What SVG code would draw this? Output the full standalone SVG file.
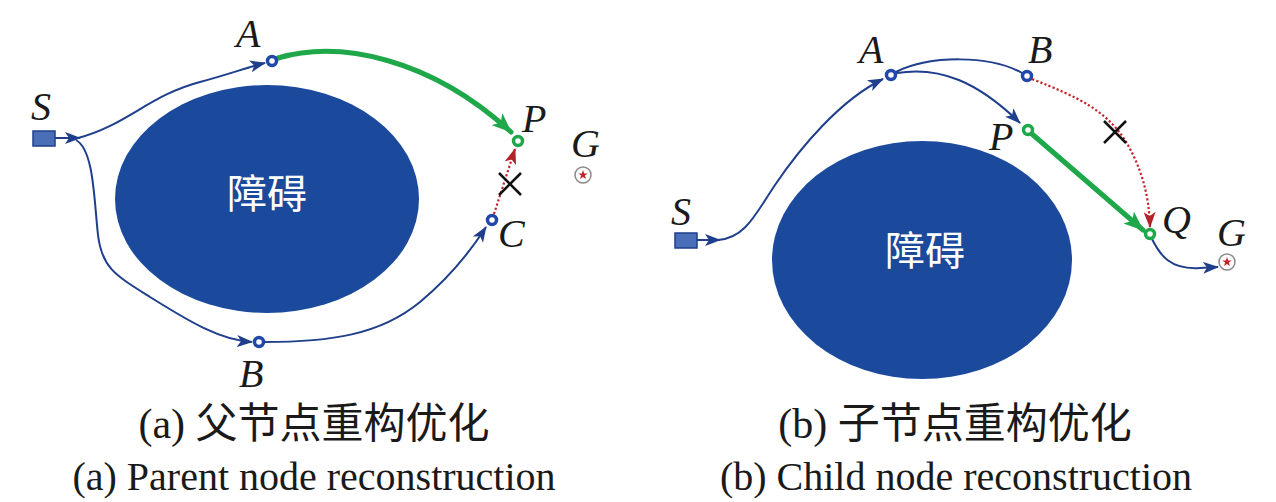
<svg xmlns="http://www.w3.org/2000/svg" width="1276" height="502" viewBox="0 0 1276 502">
<style>
.obs{fill:#1b4a9c;}
.obst{fill:#fff;font-family:"Noto Sans CJK SC",sans-serif;font-size:40px;text-anchor:middle;}
.lbl{fill:#1a1a1a;font-family:"Liberation Serif",serif;font-style:italic;font-size:40px;}
.cap{fill:#1a1a1a;font-family:"Liberation Serif","Noto Sans CJK SC",serif;text-anchor:middle;}
.blue{fill:none;stroke:#1f3f8c;stroke-width:2;}
.green{fill:none;stroke:#1fa84a;stroke-width:5;stroke-linecap:round;}
.red{fill:none;stroke:#c3232b;stroke-width:2.2;stroke-dasharray:2.2 2.2;}
.nb{fill:#fff;stroke:#2148a8;stroke-width:3.5;}
.ng{fill:#fff;stroke:#1fa84a;stroke-width:3.5;}
.x{stroke:#111;stroke-width:2.5;}
.start{fill:#4a6fb8;stroke:#1f3f8c;stroke-width:1.5;}
.goal{fill:#fff;stroke:#8a8a8a;stroke-width:1.5;}
</style>
<defs>
<marker id="ab" markerUnits="userSpaceOnUse" viewBox="0 0 16 12" markerWidth="16" markerHeight="12" refX="15" refY="6" orient="auto"><path d="M0,0 L16,6 L0,12 L4,6 z" fill="#1f3f8c"/></marker>
<marker id="ag" markerUnits="userSpaceOnUse" viewBox="0 0 20 16" markerWidth="20" markerHeight="16" refX="19" refY="8" orient="auto"><path d="M0,0 L20,8 L0,16 L5,8 z" fill="#1fa84a"/></marker>
<marker id="ar" markerUnits="userSpaceOnUse" viewBox="0 0 16 12" markerWidth="16" markerHeight="12" refX="15" refY="6" orient="auto"><path d="M0,0 L16,6 L0,12 L4,6 z" fill="#b4222a"/></marker>
<polygon id="star" points="0,-5 1.18,-1.62 4.76,-1.55 1.9,0.62 2.94,4.05 0,2 -2.94,4.05 -1.9,0.62 -4.76,-1.55 -1.18,-1.62" fill="#c3232b"/>
</defs>

<!-- Panel (a) -->
<g id="a-obstacle"><ellipse class="obs" cx="267" cy="199" rx="152" ry="114"/><text class="obst" x="267" y="208">障碍</text></g>
<g id="a-connectors">
<path class="blue" d="M55,138 L80,138" marker-end="url(#ab)"/>
<path class="blue" d="M78,138 C125,126 150,95 200,82 C230,74 248,67 265,63" marker-end="url(#ab)"/>
<path class="blue" d="M76,140 C94,150 94,200 98,235 C102,268 115,275 150,297 C190,322 220,340 252,342" marker-end="url(#ab)"/>
<path class="blue" d="M264,342 C330,342 380,335 420,302 C450,277 470,252 486,227" marker-end="url(#ab)"/>
<path class="green" d="M278,58 C340,40 430,58 511,132" marker-end="url(#ag)"/>
<path class="red" d="M494,214 L515,149" marker-end="url(#ar)"/>
<g id="a-x"><line class="x" x1="499" y1="173" x2="521" y2="195"/><line class="x" x1="521" y1="173" x2="499" y2="195"/></g>
</g>
<g id="a-S"><rect class="start" x="33" y="131" width="22" height="15"/><text class="lbl" x="31" y="120">S</text></g>
<g id="a-A"><circle class="nb" cx="272" cy="61" r="4.5"/><text class="lbl" x="236" y="47">A</text></g>
<g id="a-B"><circle class="nb" cx="259" cy="342" r="4.5"/><text class="lbl" x="239" y="387">B</text></g>
<g id="a-C"><circle class="nb" cx="492" cy="220" r="4.5"/><text class="lbl" x="498" y="247">C</text></g>
<g id="a-P"><circle class="ng" cx="518" cy="141" r="4.5"/><text class="lbl" x="522" y="132">P</text></g>
<g id="a-G"><circle class="goal" cx="583" cy="175" r="8"/><use href="#star" x="583" y="175"/><text class="lbl" x="571" y="157">G</text></g>

<!-- Panel (b) -->
<g id="b-obstacle"><ellipse class="obs" cx="922" cy="260" rx="150" ry="119"/><text class="obst" x="925" y="265">障碍</text></g>
<g id="b-connectors">
<path class="blue" d="M697,240 L720,240" marker-end="url(#ab)"/>
<path class="blue" d="M718,240 C745,238 755,215 775,185 C800,148 840,100 883,79" marker-end="url(#ab)"/>
<path class="blue" d="M896,72 C930,55 990,55 1022,73"/>
<path class="blue" d="M897,73 C940,66 978,82 1020,123" marker-end="url(#ab)"/>
<path class="green" d="M1032,134 L1143,230" marker-end="url(#ag)"/>
<path class="red" d="M1032,79 C1080,98 1105,110 1125,140 C1140,165 1149,192 1150,227" marker-end="url(#ar)"/>
<path class="blue" d="M1152,239 C1160,255 1170,270 1200,268 L1218,267" marker-end="url(#ab)"/>
<g id="b-x"><line class="x" x1="1104" y1="121" x2="1126" y2="143"/><line class="x" x1="1126" y1="121" x2="1104" y2="143"/></g>
</g>
<g id="b-S"><rect class="start" x="675" y="233" width="22" height="15"/><text class="lbl" x="671" y="225">S</text></g>
<g id="b-A"><circle class="nb" cx="891" cy="75" r="4.5"/><text class="lbl" x="859" y="63">A</text></g>
<g id="b-B"><circle class="nb" cx="1027" cy="76" r="4.5"/><text class="lbl" x="1028" y="63">B</text></g>
<g id="b-P"><circle class="ng" cx="1028" cy="130" r="4.5"/><text class="lbl" x="989" y="150">P</text></g>
<g id="b-Q"><circle class="ng" cx="1150" cy="234" r="4.5"/><text class="lbl" x="1162" y="233">Q</text></g>
<g id="b-G"><circle class="goal" cx="1227" cy="262" r="8"/><use href="#star" x="1227" y="262"/><text class="lbl" x="1217" y="246">G</text></g>

<!-- Captions -->
<text class="cap" x="314" y="438" font-size="42">(a) 父节点重构优化</text>
<text class="cap" x="314" y="490" font-size="40">(a) Parent node reconstruction</text>
<text class="cap" x="955" y="438" font-size="42">(b) 子节点重构优化</text>
<text class="cap" x="956" y="490" font-size="40">(b) Child node reconstruction</text>
</svg>
